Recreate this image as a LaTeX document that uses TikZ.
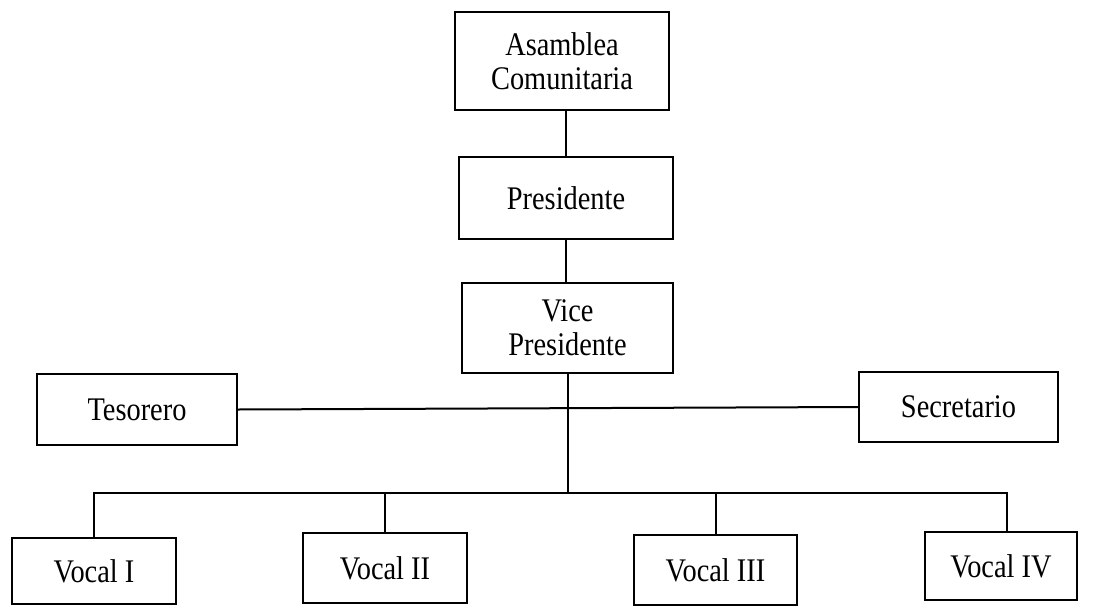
\documentclass[tikz,border=0pt]{standalone}
\usepackage{fontspec}
\setmainfont{Liberation Serif}[FakeStretch=0.86]
\usepackage{tikz}
\usetikzlibrary{positioning}

\begin{document}
\begin{tikzpicture}[x=1pt,y=-1pt,
    cargo/.style={draw,line width=1.8pt,align=center,inner sep=0pt,
      font=\fontsize{33}{34}\selectfont},
    linea/.style={line width=2pt}]
\useasboundingbox (0,0) rectangle (1115,605);
% cuerpo directivo
\node[cargo,minimum width=214pt,minimum height=98pt] (asamblea) at (562,61) {Asamblea\\Comunitaria};
\node[cargo,minimum width=214pt,minimum height=82pt] (presidente) at (566,198) {Presidente};
\node[cargo,minimum width=211pt,minimum height=90pt] (vice) at (567.5,328) {Vice\\Presidente};
\node[cargo,minimum width=200pt,minimum height=71pt] (tesorero) at (137,409.5) {Tesorero};
\node[cargo,minimum width=199pt,minimum height=70pt] (secretario) at (958.5,407) {Secretario};
% vocales
\node[cargo,minimum width=164pt,minimum height=66pt] (vocalI) at (94,571) {Vocal I};
\node[cargo,minimum width=164pt,minimum height=70pt] (vocalII) at (385,568) {Vocal II};
\node[cargo,minimum width=163pt,minimum height=70pt] (vocalIII) at (715.5,570) {Vocal III};
\node[cargo,minimum width=152pt,minimum height=68pt] (vocalIV) at (1001,566) {Vocal IV};
\coordinate (bus) at (567.5,493);

\draw[linea] (presidente.north) -- (presidente.north |- asamblea.south);
\draw[linea] (presidente.south) -- (presidente.south |- vice.north);
\draw[linea] (vice.south) -- (bus);
\draw[linea] (tesorero.east) -- (secretario.west);
\draw[linea] (vocalI.north) |- (bus) -| ([xshift=6pt]vocalIV.north);
\draw[linea] (vocalII.north) -- (vocalII.north |- bus);
\draw[linea] (vocalIII.north) -- (vocalIII.north |- bus);
\end{tikzpicture}
\end{document}
